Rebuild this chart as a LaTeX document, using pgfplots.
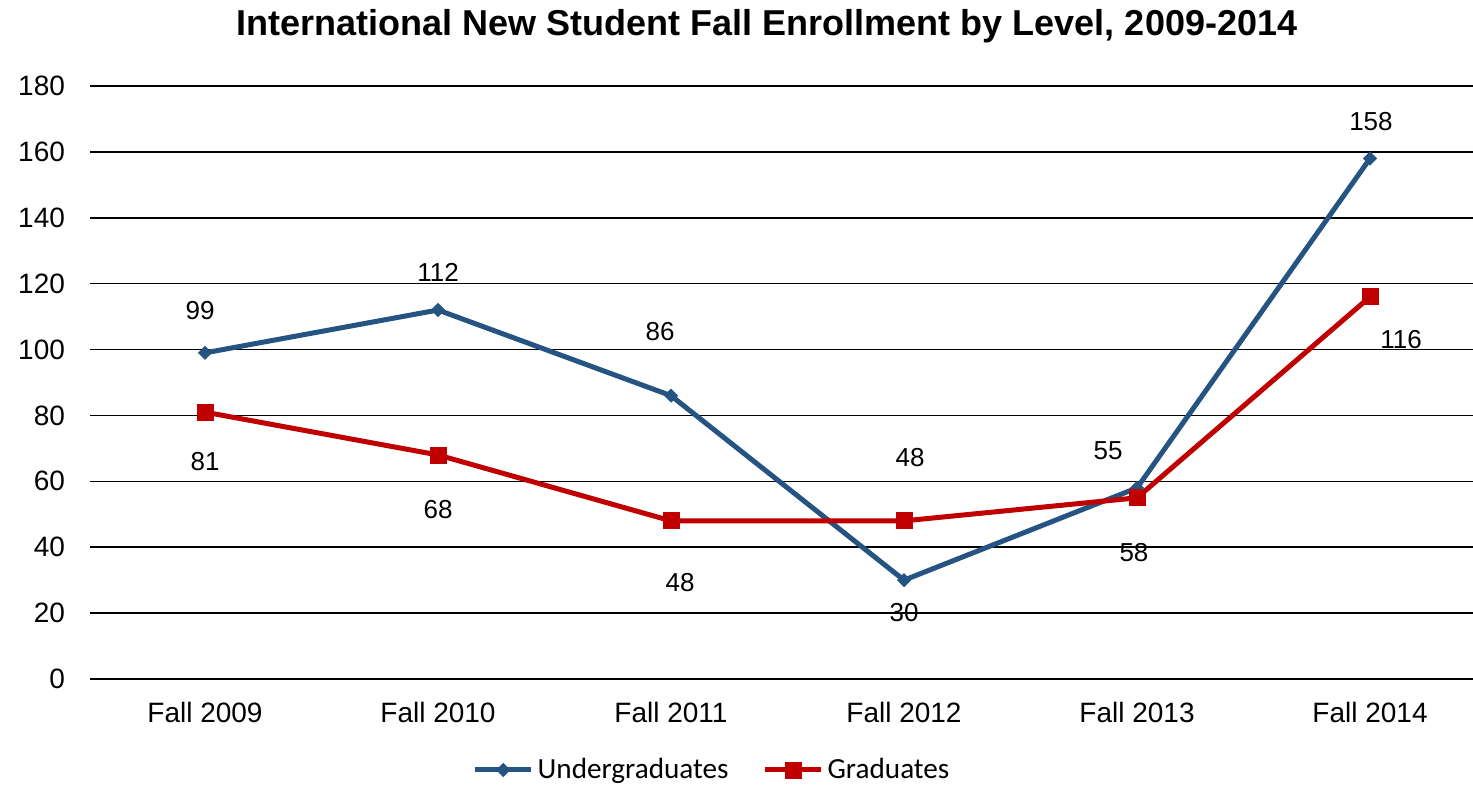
\documentclass[border=0pt]{standalone}
\usepackage{pgfplots}
\pgfplotsset{compat=1.18}
\usepackage{fontspec}
\setmainfont{Liberation Sans}
\newfontfamily\calibri{Carlito}
\definecolor{ublue}{HTML}{255482}
\definecolor{gred}{HTML}{C00000}
\pgfplotsset{lbl/.style={
 draw=none, mark=none, forget plot,
 nodes near coords,
 point meta=explicit symbolic,
 nodes near coords style={anchor=center, black, font=\fontsize{13}{15}\selectfont},
}}
\begin{document}
\begin{tikzpicture}
\path[use as bounding box] (-45pt,-55.5pt) rectangle (691.5pt,339.5pt);
\begin{axis}[
 scale only axis, width=691.5pt, height=296.5pt,
 xmin=-0.4936, xmax=5.442, ymin=0, ymax=180,
 xtick={0,...,5},
 xticklabels={Fall 2009,Fall 2010,Fall 2011,Fall 2012,Fall 2013,Fall 2014},
 ytick={0,20,...,180},
 ymajorgrids, grid style={black, line width=0.75pt},
 axis line style={draw=none},
 major tick length=0pt,
 /pgf/number format/assume math mode=true,
 tick label style={font=\fontsize{14}{16}\selectfont},
 yticklabel style={xshift=-9pt},
 xticklabel style={yshift=-8pt},
 clip=false,
 title={International New Student Fall Enrollment by Level, 2009-2014},
 title style={at={(axis description cs:0.4895,1)}, anchor=center, yshift=24pt, font=\bfseries\fontsize{18}{21}\selectfont},
 legend columns=2,
 legend style={draw=none, font=\calibri\fontsize{14.6}{17}\selectfont, at={(axis description cs:0.4505,0)}, anchor=center, yshift=-45.5pt, /tikz/every even column/.append style={column sep=15pt}},
 legend image code/.code={\draw[mark repeat=2,mark phase=2,#1] plot coordinates {(0pt,0pt) (14pt,0pt) (28pt,0pt)};},
]
\addplot[ublue, line width=2.5pt, mark=square*, mark size=2.3pt, mark options={rotate=45, solid, line width=0.4pt}] coordinates {(0,99) (1,112) (2,86) (3,30) (4,58) (5,158)};
\addplot[gred, line width=2.5pt, mark=square*, mark size=4pt, mark options={solid, line width=0.4pt}] coordinates {(0,81) (1,68) (2,48) (3,48) (4,55) (5,116)};
\legend{Undergraduates,Graduates}
\addplot[lbl] coordinates {(-0.021,111.7)[99] (1,123.5)[112] (1.953,105.6)[86] (3,20.3)[30] (3.987,38.5)[58] (5.004,169.1)[158]};
\addplot[lbl] coordinates {(0,65.9)[81] (1,51.3)[68] (2.039,29.4)[48] (3.026,67.1)[48] (3.876,69.2)[55] (5.133,102.9)[116]};
\end{axis}
\end{tikzpicture}
\end{document}
